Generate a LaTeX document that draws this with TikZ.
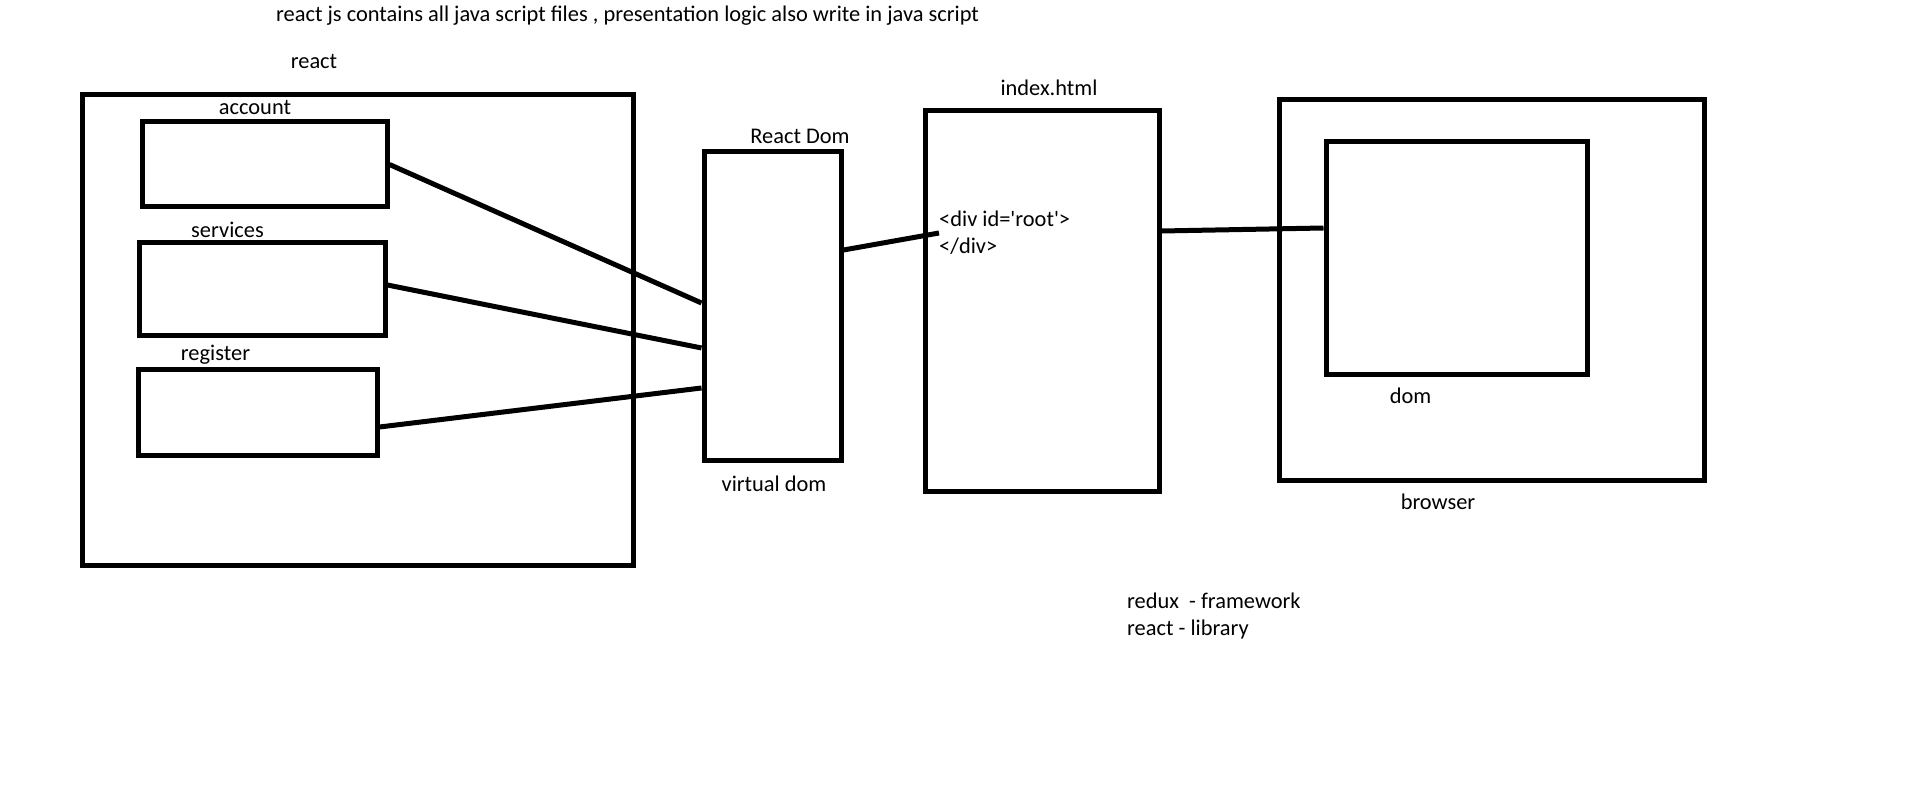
\documentclass[tikz,border=0pt]{standalone}
\usepackage{fontspec}
\setmainfont{Carlito}[Ligatures=TeXOff]
\begin{document}
\begin{tikzpicture}[
  x = 1pt, y = -1pt,
  every node/.style = {font = \fontsize{22.4}{27}\selectfont, inner sep = 0pt},
  box/.style = {draw, line width = 5pt},
  wire/.style = {line width = 5pt}
  ]
  \useasboundingbox (0,0) rectangle (1914,799);

  \node[anchor = west] (title) at (276,16) {react js contains all java script files , presentation logic also write in java script};

  %react side
  \node (reactlbl) at (314,62) {react};
  \node[box, minimum width = 551, minimum height = 470] (react) at (357.5,330) {};
  \node (accountlbl) at (255,108) {account};
  \node[box, minimum width = 245, minimum height = 85] (account) at (264.5,164.5) {};
  \node (serviceslbl) at (227.5,230) {services};
  \node[box, minimum width = 246, minimum height = 93] (services) at (262,289.5) {};
  \node (registerlbl) at (215.5,355) {register};
  \node[box, minimum width = 239, minimum height = 85] (register) at (257.5,412.5) {};

  %virtual dom
  \node (vdomtop) at (800,136) {React Dom};
  \node[box, minimum width = 137, minimum height = 308] (vdom) at (772.5,306) {};
  \node (vdomlbl) at (774,484) {virtual dom};

  %index.html
  \node (indexlbl) at (1049,88) {index.html};
  \node[box, minimum width = 234, minimum height = 380] (index) at (1042,301) {};
  \node[anchor = west, align = left] (root) at (939,233) {<div id='root'>\\</div>};

  %browser
  \node[box, minimum width = 425, minimum height = 380] (browser) at (1491.5,290) {};
  \node[box, minimum width = 261, minimum height = 233] (dom) at (1456.5,258.5) {};
  \node (domlbl) at (1410.5,396) {dom};
  \node (browserlbl) at (1438,502) {browser};

  \node[anchor = west, align = left] (notes) at (1127,616.5) {redux\ \ - framework\\react - library};

  \draw[wire] (account.east) -- ([yshift=3pt]vdom.west);
  \draw[wire] ([yshift=4.5pt]services.east) -- ([yshift=-42pt]vdom.west);
  \draw[wire] ([yshift=-14.5pt]register.east) -- ([yshift=-82pt]vdom.west);
  \draw[wire] ([yshift=56pt]vdom.east) -- (root.west);
  \draw[wire] ([yshift=70pt]index.east) -- ([yshift=30.5pt]dom.west);
\end{tikzpicture}
\end{document}
